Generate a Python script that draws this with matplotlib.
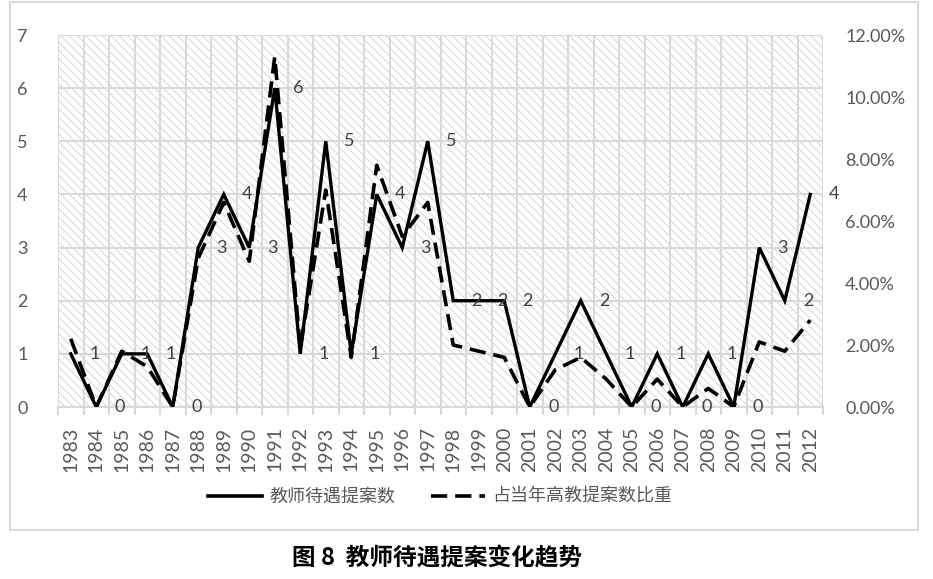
import matplotlib
matplotlib.use("Agg")
import matplotlib.pyplot as plt
from matplotlib.patches import Rectangle
from matplotlib.lines import Line2D
from matplotlib.ticker import FuncFormatter, MultipleLocator, FixedLocator

plt.rcParams['font.family'] = ['Lato', 'Noto Sans CJK SC', 'DejaVu Sans']
plt.rcParams['hatch.linewidth'] = 0.6

years = [str(y) for y in range(1983, 2013)]
counts = [1, 0, 1, 1, 0, 3, 4, 3, 6, 1, 5, 1, 4, 3, 5, 2, 2, 2, 0, 1, 2, 1, 0, 1, 0, 1, 0, 3, 2, 4]
share_pct = [2.2, 0.0, 1.8, 1.3, 0.0, 4.8, 6.6, 4.7, 11.3, 1.9, 7.0, 1.6, 7.8, 5.5, 6.6,
             2.0, 1.8, 1.6, 0.0, 1.2, 1.6, 0.9, 0.0, 0.9, 0.0, 0.6, 0.0, 2.1, 1.8, 2.8]
legend_labels = ['教师待遇提案数', '占当年高教提案数比重']
title = '图 8  教师待遇提案变化趋势'

W, H = 933, 579
fig = plt.figure(figsize=(W / 100, H / 100), dpi=100)

def fx(px):
    return px / W

def fy(py):
    return 1 - py / H

# outer border
fig.patches.append(Rectangle((fx(10), fy(530)), fx(918) - fx(10), fy(2) - fy(530),
                             transform=fig.transFigure, fill=False,
                             edgecolor='#d9d9d9', lw=1.5))

ax = fig.add_axes([fx(58), fy(407), fx(823) - fx(58), fy(35) - fy(407)])
x = list(range(len(years)))
ax.set_xlim(-0.5, len(years) - 0.5)
ax.set_ylim(0, 7)

# hatched plot background
ax.add_patch(Rectangle((0, 0), 1, 1, transform=ax.transAxes, facecolor='white',
                       edgecolor='#cfcfcf', lw=0, hatch='\\\\\\\\', zorder=0))

# grid
ax.xaxis.set_major_locator(FixedLocator([i - 0.5 for i in range(len(years) + 1)]))
ax.set_xticklabels([], minor=False)
ax.set_xticks(x, years, minor=True, rotation=90)
ax.tick_params(axis='x', which='major', length=6, color='#d9d9d9', width=1.5)
ax.tick_params(axis='x', which='minor', length=0, pad=14, labelsize=14, labelcolor='#595959')
ax.yaxis.set_major_locator(MultipleLocator(1))
ax.tick_params(axis='y', length=0, pad=22, labelsize=13, labelcolor='#595959')
ax.grid(True, which='major', color='#d9d9d9', lw=1.5, zorder=0.5)
ax.set_axisbelow(True)
for s in ['top', 'right', 'left']:
    ax.spines[s].set_visible(False)
ax.spines['bottom'].set_color('#d9d9d9')
ax.spines['bottom'].set_linewidth(1.5)

ax.plot(x, counts, color='black', lw=2.4, zorder=3, solid_joinstyle='miter')
for xi, v in zip(x, counts):
    ax.annotate(str(v), (xi, v), xytext=(17, 0), textcoords='offset points',
                ha='center', va='center', fontsize=13, color='#404040', zorder=4)

ax2 = ax.twinx()
ax2.set_ylim(0, 0.12)
ax2.plot(x, [p / 100 for p in share_pct], color='black', lw=2.6, ls=(0, (4.5, 2.2)), zorder=3)
ax2.yaxis.set_major_locator(MultipleLocator(0.02))
ax2.yaxis.set_major_formatter(FuncFormatter(lambda v, p: f'{v * 100:.2f}%'))
ax2.tick_params(axis='y', length=0, pad=16, labelsize=13, labelcolor='#595959')
for s in ax2.spines.values():
    s.set_visible(False)

handles = [Line2D([], [], color='black', lw=2.6),
           Line2D([], [], color='black', lw=2.6, ls=(0, (4.5, 2.2)))]
fig.legend(handles, legend_labels, loc='center', bbox_to_anchor=(fx(440), fy(497)),
           ncol=2, frameon=False, handlelength=3.0, handletextpad=0.4, columnspacing=2.0,
           prop={'family': ['Noto Sans CJK SC'], 'size': 13}, labelcolor='#595959')

fig.text(fx(437), fy(558), title, ha='center', va='center', fontsize=17,
         family=['Noto Sans CJK SC'], fontweight='bold', color='black')

fig.savefig('out.png', dpi=100)
